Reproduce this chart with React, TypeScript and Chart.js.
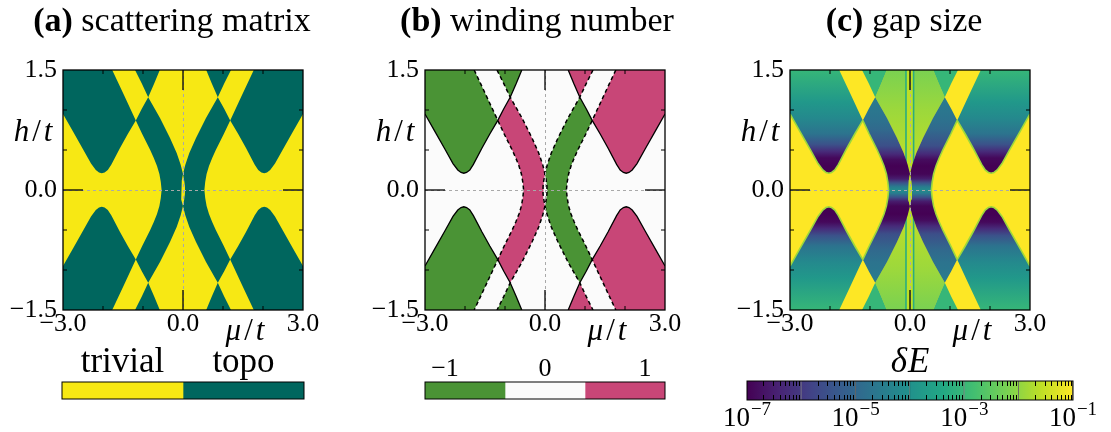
import React, { useEffect, useRef } from 'react';
import { Chart, registerables } from 'chart.js';

Chart.register(...registerables);

type P = [number, number];

// ---------------- axes ----------------
const MU_RANGE: P = [-3, 3];
const H_RANGE: P = [-1.5, 1.5];
const X_TICK_LABELS = [-3, 0, 3];
const Y_TICK_LABELS = [-1.5, 0, 1.5];
const X_MINOR_TICKS = [-2, -1, 1, 2];
const Y_MINOR_TICKS = [-1, -0.5, 0.5, 1];
const ZERO_TICKS = [0];

// ---------------- phase boundaries (mu/t, h/t) ----------------
// upper-left quadrant
const hypLeftUL: P[] = [[-3.0, 0.95], [-2.75, 0.73], [-2.5, 0.51], [-2.3, 0.33], [-2.18, 0.25], [-2.1, 0.22], [-2.03, 0.21], [-1.96, 0.22], [-1.88, 0.25], [-1.79, 0.32], [-1.575, 0.525], [-1.38, 0.7], [-1.18, 0.87]];
const hypMidUL: P[] = [[-1.18, 0.87], [-1.03, 1.015], [-0.87, 1.16]];
const hypTopUL: P[] = [[-0.87, 1.16], [-0.72, 1.33], [-0.58, 1.5]];
const lineATopUL: P[] = [[-1.77, 1.5], [-1.47, 1.18], [-1.18, 0.87]];
const lineALowUL: P[] = [[-1.18, 0.87], [-1.02, 0.7], [-0.92, 0.6], [-0.82, 0.5], [-0.73, 0.4], [-0.65, 0.3], [-0.59, 0.2], [-0.555, 0.1], [-0.535, 0.0]];
const lineBTopUL: P[] = [[-1.2, 1.5], [-1.03, 1.33], [-0.87, 1.16]];
const lineBLowUL: P[] = [[-0.87, 1.16], [-0.575, 0.9], [-0.325, 0.65], [-0.158, 0.463], [-0.058, 0.317], [0.0, 0.2]];
const lensUL: P[] = [[0.0, 0.2], [-0.03, 0.12], [-0.048, 0.05], [-0.05, 0.0]];

// upper-right quadrant
const hypRightUR: P[] = [[3.0, 0.95], [2.75, 0.73], [2.5, 0.51], [2.3, 0.33], [2.18, 0.25], [2.1, 0.22], [2.03, 0.21], [1.96, 0.22], [1.88, 0.25], [1.79, 0.32], [1.575, 0.525], [1.38, 0.7], [1.18, 0.87]];
const hypMidUR: P[] = [[1.18, 0.87], [1.03, 1.015], [0.87, 1.16]];
const hypTopUR: P[] = [[0.87, 1.16], [0.72, 1.33], [0.58, 1.5]];
const lineATopUR: P[] = [[1.77, 1.5], [1.47, 1.18], [1.18, 0.87]];
const lineALowUR: P[] = [[1.18, 0.87], [1.02, 0.7], [0.92, 0.6], [0.82, 0.5], [0.73, 0.4], [0.65, 0.3], [0.59, 0.2], [0.555, 0.1], [0.535, 0.0]];
const lineBTopUR: P[] = [[1.2, 1.5], [1.03, 1.33], [0.87, 1.16]];
const lineBLowUR: P[] = [[0.87, 1.16], [0.575, 0.9], [0.325, 0.65], [0.158, 0.463], [0.058, 0.317], [0.0, 0.2]];
const lensUR: P[] = [[0.0, 0.2], [0.03, 0.12], [0.048, 0.05], [0.05, 0.0]];

// lower-left quadrant
const hypLeftLL: P[] = [[-3.0, -0.95], [-2.75, -0.73], [-2.5, -0.51], [-2.3, -0.33], [-2.18, -0.25], [-2.1, -0.22], [-2.03, -0.21], [-1.96, -0.22], [-1.88, -0.25], [-1.79, -0.32], [-1.575, -0.525], [-1.38, -0.7], [-1.18, -0.87]];
const hypMidLL: P[] = [[-1.18, -0.87], [-1.03, -1.015], [-0.87, -1.16]];
const hypTopLL: P[] = [[-0.87, -1.16], [-0.72, -1.33], [-0.58, -1.5]];
const lineATopLL: P[] = [[-1.77, -1.5], [-1.47, -1.18], [-1.18, -0.87]];
const lineALowLL: P[] = [[-1.18, -0.87], [-1.02, -0.7], [-0.92, -0.6], [-0.82, -0.5], [-0.73, -0.4], [-0.65, -0.3], [-0.59, -0.2], [-0.555, -0.1], [-0.535, 0.0]];
const lineBTopLL: P[] = [[-1.2, -1.5], [-1.03, -1.33], [-0.87, -1.16]];
const lineBLowLL: P[] = [[-0.87, -1.16], [-0.575, -0.9], [-0.325, -0.65], [-0.158, -0.463], [-0.058, -0.317], [0.0, -0.2]];
const lensLL: P[] = [[0.0, -0.2], [-0.03, -0.12], [-0.048, -0.05], [-0.05, 0.0]];

// lower-right quadrant
const hypRightLR: P[] = [[3.0, -0.95], [2.75, -0.73], [2.5, -0.51], [2.3, -0.33], [2.18, -0.25], [2.1, -0.22], [2.03, -0.21], [1.96, -0.22], [1.88, -0.25], [1.79, -0.32], [1.575, -0.525], [1.38, -0.7], [1.18, -0.87]];
const hypMidLR: P[] = [[1.18, -0.87], [1.03, -1.015], [0.87, -1.16]];
const hypTopLR: P[] = [[0.87, -1.16], [0.72, -1.33], [0.58, -1.5]];
const lineATopLR: P[] = [[1.77, -1.5], [1.47, -1.18], [1.18, -0.87]];
const lineALowLR: P[] = [[1.18, -0.87], [1.02, -0.7], [0.92, -0.6], [0.82, -0.5], [0.73, -0.4], [0.65, -0.3], [0.59, -0.2], [0.555, -0.1], [0.535, 0.0]];
const lineBTopLR: P[] = [[1.2, -1.5], [1.03, -1.33], [0.87, -1.16]];
const lineBLowLR: P[] = [[0.87, -1.16], [0.575, -0.9], [0.325, -0.65], [0.158, -0.463], [0.058, -0.317], [0.0, -0.2]];
const lensLR: P[] = [[0.0, -0.2], [0.03, -0.12], [0.048, -0.05], [0.05, 0.0]];

// ---------------- gap size (position on the log colour scale 1e-7..1e-1, 0..1) vs h/t ----------------
const LOBE_GAP: P[] = [[1.5, 0.66], [1.1, 0.53], [0.9, 0.47], [0.7, 0.38], [0.57, 0.25], [0.48, 0.12], [0.4, 0.02], [0.3, 0], [-0.3, 0], [-0.4, 0.02], [-0.48, 0.12], [-0.57, 0.25], [-0.7, 0.38], [-0.9, 0.47], [-1.1, 0.53], [-1.5, 0.66]];
const BAND_GAP: P[] = [[1.2, 0.42], [0.9, 0.38], [0.75, 0.34], [0.55, 0.24], [0.45, 0.12], [0.38, 0.03], [0.3, 0], [0.2, 0.01], [0.14, 0.08], [0.09, 0.25], [0.04, 0.42], [0, 0.48], [-0.04, 0.42], [-0.09, 0.25], [-0.14, 0.08], [-0.2, 0.01], [-0.3, 0], [-0.38, 0.03], [-0.45, 0.12], [-0.55, 0.24], [-0.75, 0.34], [-0.9, 0.38], [-1.2, 0.42]];
const CENTRAL_GAP: P[] = [[1.5, 0.8], [1.0, 0.85], [0.6, 0.88], [0.2, 0.92], [-0.2, 0.92], [-0.6, 0.88], [-1.0, 0.85], [-1.5, 0.8]];
const TRIANGLE_GAP = 0.66;
const LENS_GAP = 0.9;
const STRIP_GAP = 0.9;
const STRIP_EDGE_GAP = 0.62;
const RIM_GAP = 0.85;
const STRIP_MU = [-0.1, 0.09];

// ---------------- colour bars ----------------
const CB_A_SEGMENTS: P[] = [[0, 1], [1, 2]];
const CB_A_LABELS = ['trivial', 'topo'];
const CB_B_SEGMENTS: P[] = [[-1.2, -0.4], [-0.4, 0.4], [0.4, 1.2]];
const CB_B_TICKS = [-1, 0, 1];
const CB_C_DECADES: P[] = [[1e-7, 1e-6], [1e-6, 1e-5], [1e-5, 1e-4], [1e-4, 1e-3], [1e-3, 1e-2], [1e-2, 1e-1]];
const CB_C_TICK_EXPONENTS = [-7, -5, -3, -1];
const CB_C_MINOR = [2, 3, 4, 5, 6, 7, 8, 9];

// ---------------- styles ----------------
const SERIF = '"Liberation Serif", "Times New Roman", serif';
const YELLOW_A = '#f7e814';
const GREEN_A = '#00665e';
const GREEN_B = '#4a9335';
const PINK_B = '#c84677';
const WHITE_B = '#fbfbfb';
const VIRIDIS = ['#440154', '#482475', '#414487', '#355f8d', '#2a788e', '#21918c', '#22a884', '#44bf70', '#7ad151', '#bddf26', '#fde725'];

function hexRgb(h: string) {
  const n = parseInt(h.slice(1), 16);
  return [(n >> 16) & 255, (n >> 8) & 255, n & 255];
}
function viridis(t: number) {
  const c = Math.min(1, Math.max(0, t)) * 10;
  const i = Math.min(9, Math.floor(c));
  const f = c - i;
  const a = hexRgb(VIRIDIS[i]);
  const b = hexRgb(VIRIDIS[i + 1]);
  const m = a.map((v, k) => Math.round(v + (b[k] - v) * f));
  return `rgb(${m[0]},${m[1]},${m[2]})`;
}

// ---------------- helpers to assemble polygons from the boundary lists ----------------
const rev = (a: P[]): P[] => [...a].reverse();
const cat = (...parts: P[][]): P[] => ([] as P[]).concat(...parts);
const xy = (a: P[]) => a.map(([x, y]) => ({ x, y }));

const BOX: P[] = [[MU_RANGE[0], H_RANGE[1]], [MU_RANGE[1], H_RANGE[1]], [MU_RANGE[1], H_RANGE[0]], [MU_RANGE[0], H_RANGE[0]]];
const lobeUL = cat([[MU_RANGE[0], H_RANGE[1]]], lineATopUL, rev(hypLeftUL));
const lobeUR = cat([[MU_RANGE[1], H_RANGE[1]]], lineATopUR, rev(hypRightUR));
const lobeLL = cat([[MU_RANGE[0], H_RANGE[0]]], lineATopLL, rev(hypLeftLL));
const lobeLR = cat([[MU_RANGE[1], H_RANGE[0]]], lineATopLR, rev(hypRightLR));
const triUL = cat(lineBTopUL, hypTopUL);
const triUR = cat(lineBTopUR, hypTopUR);
const triLL = cat(lineBTopLL, hypTopLL);
const triLR = cat(lineBTopLR, hypTopLR);
const bandL = cat(hypMidUL, lineBLowUL, lensUL, rev(lensLL), rev(lineBLowLL), rev(hypMidLL), lineALowLL, rev(lineALowUL));
const bandR = cat(hypMidUR, lineBLowUR, lensUR, rev(lensLR), rev(lineBLowLR), rev(hypMidLR), lineALowLR, rev(lineALowUR));
const centralTop = cat(rev(hypTopUL), lineBLowUL, rev(lineBLowUR), hypTopUR);
const centralBottom = cat(rev(hypTopLL), lineBLowLL, rev(lineBLowLR), hypTopLR);
const lens = cat(lensUL, rev(lensLL), lensLR, rev(lensUR));
const strip: P[] = [[STRIP_MU[0], H_RANGE[1]], [STRIP_MU[1], H_RANGE[1]], [STRIP_MU[1], H_RANGE[0]], [STRIP_MU[0], H_RANGE[0]]];

const hypFullUL = cat(hypLeftUL, hypMidUL, hypTopUL);
const hypFullUR = cat(hypRightUR, hypMidUR, hypTopUR);
const hypFullLL = cat(hypLeftLL, hypMidLL, hypTopLL);
const hypFullLR = cat(hypRightLR, hypMidLR, hypTopLR);
const lineAL = cat(lineATopUL, lineALowUL, rev(lineALowLL), rev(lineATopLL));
const lineAR = cat(lineATopUR, lineALowUR, rev(lineALowLR), rev(lineATopLR));
const lineBL = cat(lineBTopUL, lineBLowUL, lensUL, rev(lensLL), rev(lineBLowLL), rev(lineBTopLL));
const lineBR = cat(lineBTopUR, lineBLowUR, lensUR, rev(lensLR), rev(lineBLowLR), rev(lineBTopLR));

const area = (pts: P[], color: any) => ({
  data: xy([...pts, pts[0]]), fill: 'shape', backgroundColor: color, borderColor: 'rgba(0,0,0,0)',
  borderWidth: 0, pointRadius: 0, pointHoverRadius: 0, tension: 0,
});
const stroke = (pts: P[], color: string, width: number, dash: number[] = []) => ({
  data: xy(pts), fill: false, backgroundColor: 'rgba(0,0,0,0)', borderColor: color,
  borderWidth: width, borderDash: dash, pointRadius: 0, pointHoverRadius: 0, tension: 0,
});
const layered = (ds: any[]) => ds.map((d, i) => ({ ...d, order: ds.length - i }));

function vGradient(chart: any, stops: P[]) {
  const { ctx, chartArea, scales } = chart;
  if (!chartArea || !scales || !scales.y) return viridis(stops[0][1]);
  const y = scales.y;
  const top = y.getPixelForValue(H_RANGE[1]);
  const bot = y.getPixelForValue(H_RANGE[0]);
  const g = ctx.createLinearGradient(0, top, 0, bot);
  stops.forEach(([h, t]) => {
    const off = Math.min(1, Math.max(0, (y.getPixelForValue(h) - top) / (bot - top)));
    g.addColorStop(off, viridis(t));
  });
  return g;
}
const shade = (stops: P[]) => (c: any) => vGradient(c.chart, stops);

// ---------------- datasets per panel ----------------
const datasetsA = layered([
  area(BOX, YELLOW_A),
  area(lobeUL, GREEN_A), area(lobeUR, GREEN_A), area(lobeLL, GREEN_A), area(lobeLR, GREEN_A),
  area(triUL, GREEN_A), area(triUR, GREEN_A), area(triLL, GREEN_A), area(triLR, GREEN_A),
  area(bandL, GREEN_A), area(bandR, GREEN_A),
]);

const datasetsB = layered([
  area(BOX, WHITE_B),
  area(lobeUL, GREEN_B), area(lobeLL, GREEN_B), area(triUL, GREEN_B), area(triLL, GREEN_B),
  area(lobeUR, PINK_B), area(lobeLR, PINK_B), area(triUR, PINK_B), area(triLR, PINK_B),
  area(bandL, PINK_B), area(bandR, GREEN_B),
  stroke(lineAL, '#000', 1.5, [4, 3]), stroke(lineAR, '#000', 1.5, [4, 3]),
  stroke(lineBL, '#000', 1.5, [4, 3]), stroke(lineBR, '#000', 1.5, [4, 3]),
  stroke(hypFullUL, '#000', 1.3), stroke(hypFullUR, '#000', 1.3),
  stroke(hypFullLL, '#000', 1.3), stroke(hypFullLR, '#000', 1.3),
]);

const datasetsC = layered([
  area(BOX, viridis(1)),
  area(centralTop, shade(CENTRAL_GAP)), area(centralBottom, shade(CENTRAL_GAP)),
  area(strip, viridis(STRIP_GAP)),
  stroke([[STRIP_MU[0], H_RANGE[0]], [STRIP_MU[0], H_RANGE[1]]], viridis(STRIP_EDGE_GAP), 1.6),
  stroke([[STRIP_MU[1], H_RANGE[0]], [STRIP_MU[1], H_RANGE[1]]], viridis(STRIP_EDGE_GAP), 1.6),
  area(triUL, viridis(TRIANGLE_GAP)), area(triUR, viridis(TRIANGLE_GAP)),
  area(triLL, viridis(TRIANGLE_GAP)), area(triLR, viridis(TRIANGLE_GAP)),
  area(lobeUL, shade(LOBE_GAP)), area(lobeUR, shade(LOBE_GAP)),
  area(lobeLL, shade(LOBE_GAP)), area(lobeLR, shade(LOBE_GAP)),
  area(bandL, shade(BAND_GAP)), area(bandR, shade(BAND_GAP)),
  area(lens, viridis(LENS_GAP)),
  stroke(hypLeftUL, viridis(RIM_GAP), 1.6), stroke(hypLeftLL, viridis(RIM_GAP), 1.6),
  stroke(hypRightUR, viridis(RIM_GAP), 1.6), stroke(hypRightLR, viridis(RIM_GAP), 1.6),
  stroke(lineALowUL, viridis(RIM_GAP), 1.6), stroke(lineALowLL, viridis(RIM_GAP), 1.6),
  stroke(lineALowUR, viridis(RIM_GAP), 1.6), stroke(lineALowLR, viridis(RIM_GAP), 1.6),
]);

// ---------------- text helper ----------------
type Run = { t: string; italic?: boolean; bold?: boolean; size: number; dy?: number; gap?: number };
function drawRuns(ctx: CanvasRenderingContext2D, runs: Run[], cx: number, baseline: number) {
  ctx.save();
  ctx.textBaseline = 'alphabetic';
  ctx.textAlign = 'left';
  ctx.fillStyle = '#000';
  const fontOf = (r: Run) => `${r.italic ? 'italic' : 'normal'} ${r.bold ? 'bold' : 'normal'} ${r.size}px ${SERIF}`;
  const widths = runs.map((r) => {
    ctx.font = fontOf(r);
    return ctx.measureText(r.t).width + (r.gap || 0);
  });
  const total = widths.reduce((s, w) => s + w, 0) - (runs[runs.length - 1].gap || 0);
  let x = cx - total / 2;
  runs.forEach((r, i) => {
    ctx.font = fontOf(r);
    ctx.fillText(r.t, x, baseline - (r.dy || 0));
    x += widths[i];
  });
  ctx.restore();
}

// ---------------- main panel ----------------
type PanelCfg = { title: Run[]; titleCx: number };
function decorPlugin(cfg: PanelCfg) {
  return {
    id: 'decor',
    afterDatasetsDraw(chart: any) {
      const { ctx, chartArea: a, scales } = chart;
      const { x, y } = scales;
      const seg = (x1: number, y1: number, x2: number, y2: number) => {
        ctx.beginPath(); ctx.moveTo(x1, y1); ctx.lineTo(x2, y2); ctx.stroke();
      };
      ctx.save();
      ctx.strokeStyle = '#a9a9a9';
      ctx.lineWidth = 1;
      ctx.setLineDash([3, 3]);
      ZERO_TICKS.forEach((v) => {
        const py = Math.round(y.getPixelForValue(v)) + 0.5;
        const px = Math.round(x.getPixelForValue(v)) + 0.5;
        seg(a.left, py, a.right, py);
        seg(px, a.top, px, a.bottom);
      });
      ctx.setLineDash([]);
      ctx.strokeStyle = '#000';
      ctx.lineWidth = 1.3;
      ZERO_TICKS.forEach((v) => {
        const px = x.getPixelForValue(v);
        const py = y.getPixelForValue(v);
        seg(px, a.top, px, a.top + 20); seg(px, a.bottom, px, a.bottom - 20);
        seg(a.left, py, a.left + 20, py); seg(a.right, py, a.right - 20, py);
      });
      ctx.lineWidth = 1;
      X_MINOR_TICKS.forEach((v) => {
        const px = x.getPixelForValue(v);
        seg(px, a.top, px, a.top + 4); seg(px, a.bottom, px, a.bottom - 4);
      });
      Y_MINOR_TICKS.forEach((v) => {
        const py = y.getPixelForValue(v);
        seg(a.left, py, a.left + 4, py); seg(a.right, py, a.right - 4, py);
      });
      ctx.lineWidth = 1.3;
      ctx.strokeRect(a.left, a.top, a.right - a.left, a.bottom - a.top);
      ctx.restore();
    },
    afterDraw(chart: any) {
      const { ctx, chartArea: a } = chart;
      drawRuns(ctx, cfg.title, cfg.titleCx, 31);
      drawRuns(ctx, [{ t: 'h', italic: true, size: 31, gap: 3 }, { t: '/', size: 31, gap: 3 }, { t: 't', italic: true, size: 31 }], a.left - 30, 141);
      drawRuns(ctx, [{ t: '\u03bc', italic: true, size: 31, gap: 3 }, { t: '/', size: 31, gap: 3 }, { t: 't', italic: true, size: 31 }], a.left + 182, 340);
    },
  };
}

const fmt = (v: number) => (v < 0 ? '\u2212' : '') + Math.abs(v).toFixed(1);

function mainConfig(datasets: any[], yAxisWidth: number, padRight: number, cfg: PanelCfg): any {
  const tickFont = { family: SERIF, size: 26, lineHeight: 1.1 };
  return {
    type: 'line',
    data: { datasets },
    options: {
      animation: false, responsive: false, devicePixelRatio: 1, events: [],
      layout: { padding: { left: 0, right: padRight, top: 70, bottom: 0 } },
      plugins: { legend: { display: false }, tooltip: { enabled: false }, colors: { enabled: false } },
      scales: {
        x: {
          type: 'linear', min: MU_RANGE[0], max: MU_RANGE[1],
          afterBuildTicks: (s: any) => { s.ticks = X_TICK_LABELS.map((value) => ({ value })); },
          afterFit: (s: any) => { s.height = 40; },
          grid: { display: false, drawTicks: false }, border: { display: false },
          ticks: { padding: 0, font: tickFont, color: '#000', autoSkip: false, maxRotation: 0, callback: (v: any) => fmt(Number(v)) },
        },
        y: {
          type: 'linear', min: H_RANGE[0], max: H_RANGE[1],
          afterBuildTicks: (s: any) => { s.ticks = Y_TICK_LABELS.map((value) => ({ value })); },
          afterFit: (s: any) => { s.width = yAxisWidth; },
          grid: { display: false, drawTicks: false }, border: { display: false },
          ticks: { padding: 6, font: tickFont, color: '#000', autoSkip: false, callback: (v: any) => fmt(Number(v)) },
        },
      },
    },
    plugins: [decorPlugin(cfg)],
  };
}

function ChartCanvas({ left, top, width, height, make }: { left: number; top: number; width: number; height: number; make: () => any }) {
  const ref = useRef<HTMLCanvasElement>(null);
  useEffect(() => {
    const chart = new Chart(ref.current as HTMLCanvasElement, make());
    return () => chart.destroy();
  }, []);
  return (
    <canvas ref={ref} width={width} height={height}
      style={{ position: 'absolute', left, top, width, height, display: 'block' }} />
  );
}

// ---------------- colour bars ----------------
function cbarConfig(segments: P[], colors: any[], xType: string, range: P, padding: any, draw: (chart: any) => void, border?: any): any {
  return {
    type: 'bar',
    data: {
      labels: [''],
      datasets: segments.map((s, i) => ({
        data: [s], backgroundColor: colors[i], barPercentage: 1, categoryPercentage: 1, grouped: false,
        borderWidth: border ? border.width : 0, borderColor: border ? border.color : 'rgba(0,0,0,0)', borderSkipped: false,
      })),
    },
    options: {
      indexAxis: 'y', animation: false, responsive: false, devicePixelRatio: 1, events: [],
      layout: { padding },
      plugins: { legend: { display: false }, tooltip: { enabled: false }, colors: { enabled: false } },
      scales: { x: { type: xType, min: range[0], max: range[1], display: false }, y: { display: false } },
    },
    plugins: [{ id: 'cbar', afterDraw: draw }],
  };
}

function outline(chart: any) {
  const { ctx, chartArea: a } = chart;
  ctx.save();
  ctx.strokeStyle = '#000';
  ctx.lineWidth = 1;
  ctx.strokeRect(a.left, a.top, a.right - a.left, a.bottom - a.top);
  ctx.restore();
}

const cbA = () => cbarConfig(CB_A_SEGMENTS, [YELLOW_A, GREEN_A], 'linear', [0, 2],
  { left: 62, right: 66, top: 37, bottom: 33 },
  (chart: any) => {
    outline(chart);
    const x = chart.scales.x;
    CB_A_SEGMENTS.forEach((s, i) => drawRuns(chart.ctx, [{ t: CB_A_LABELS[i], size: 35 }], x.getPixelForValue((s[0] + s[1]) / 2), 27));
  });

const cbB = () => cbarConfig(CB_B_SEGMENTS, [GREEN_B, WHITE_B, PINK_B], 'linear', [-1.2, 1.2],
  { left: 55, right: 55, top: 37, bottom: 33 },
  (chart: any) => {
    outline(chart);
    const x = chart.scales.x;
    CB_B_TICKS.forEach((v) => drawRuns(chart.ctx, [{ t: (v < 0 ? '\u2212' : '') + Math.abs(v), size: 26 }], x.getPixelForValue(v), 31));
  });

const cbC = () => cbarConfig(CB_C_DECADES, CB_C_DECADES.map(() => (c: any) => {
  const { ctx, chartArea, scales } = c.chart;
  if (!chartArea || !scales.x) return viridis(0.5);
  const x = scales.x;
  const g = ctx.createLinearGradient(x.getPixelForValue(CB_C_DECADES[0][0]), 0, x.getPixelForValue(CB_C_DECADES[CB_C_DECADES.length - 1][1]), 0);
  VIRIDIS.forEach((col, i) => g.addColorStop(i / (VIRIDIS.length - 1), col));
  return g;
}), 'logarithmic', [CB_C_DECADES[0][0], CB_C_DECADES[CB_C_DECADES.length - 1][1]],
  { left: 27, right: 38, top: 36, bottom: 32 },
  (chart: any) => {
    const { ctx, chartArea: a } = chart;
    const x = chart.scales.x;
    ctx.save();
    ctx.strokeStyle = '#000';
    ctx.lineWidth = 1;
    CB_C_DECADES.forEach(([lo]) => {
      CB_C_MINOR.forEach((m) => {
        const px = Math.round(x.getPixelForValue(lo * m)) + 0.5;
        ctx.beginPath(); ctx.moveTo(px, a.top); ctx.lineTo(px, a.top + 5); ctx.stroke();
        ctx.beginPath(); ctx.moveTo(px, a.bottom); ctx.lineTo(px, a.bottom - 5); ctx.stroke();
      });
    });
    ctx.restore();
    outline(chart);
    drawRuns(ctx, [{ t: '\u03b4', italic: true, size: 35, gap: 1 }, { t: 'E', italic: true, size: 35 }], (a.left + a.right) / 2, 27);
    CB_C_TICK_EXPONENTS.forEach((e) => {
      drawRuns(ctx, [{ t: '10', size: 27, gap: 1 }, { t: '\u2212' + Math.abs(e), size: 19, dy: 11 }], x.getPixelForValue(Math.pow(10, e)), 81);
    });
  },
  { width: { left: 0, right: 1, top: 0, bottom: 0 }, color: 'rgba(0,0,0,0.55)' });

export default function App() {
  return (
    <div style={{ position: 'absolute', left: 0, top: 0, width: 1111, height: 432, background: '#fff', overflow: 'hidden' }}>
      <ChartCanvas left={0} top={0} width={370} height={350}
        make={() => mainConfig(datasetsA, 63, 67, { title: [{ t: '(a)', bold: true, size: 34 }, { t: ' scattering matrix', size: 34 }], titleCx: 172 })} />
      <ChartCanvas left={370} top={0} width={350} height={350}
        make={() => mainConfig(datasetsB, 55, 55, { title: [{ t: '(b)', bold: true, size: 34 }, { t: ' winding number', size: 34 }], titleCx: 167 })} />
      <ChartCanvas left={720} top={0} width={391} height={350}
        make={() => mainConfig(datasetsC, 70, 81, { title: [{ t: '(c)', bold: true, size: 34 }, { t: ' gap size', size: 34 }], titleCx: 184 })} />
      <ChartCanvas left={0} top={345} width={370} height={87} make={cbA} />
      <ChartCanvas left={370} top={345} width={350} height={87} make={cbB} />
      <ChartCanvas left={720} top={345} width={391} height={87} make={cbC} />
    </div>
  );
}
